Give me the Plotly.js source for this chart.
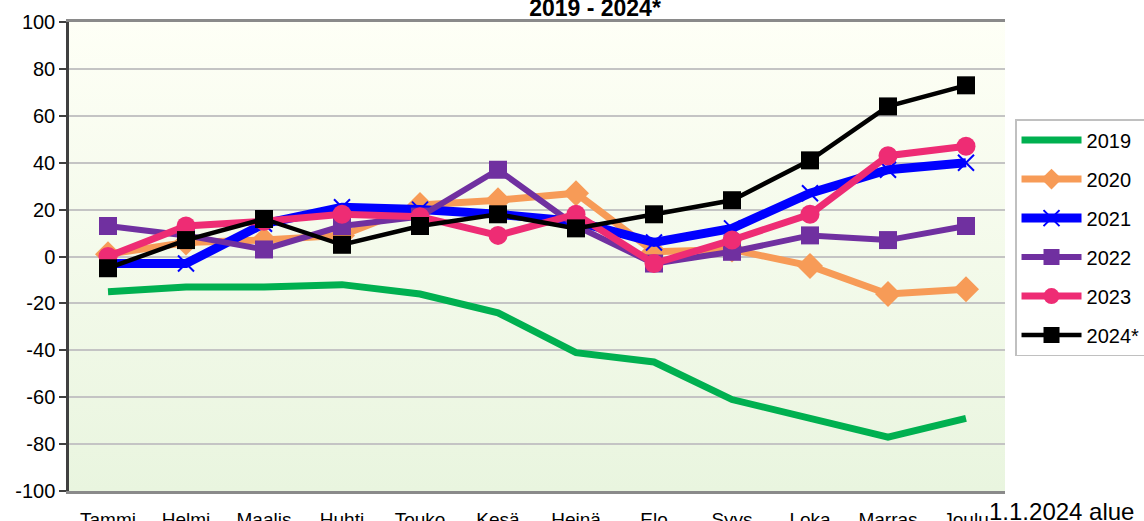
<!DOCTYPE html>
<html>
<head>
<meta charset="utf-8">
<script src="https://cdn.plot.ly/plotly-3.0.1.min.js"></script>
<style>
  html, body { margin: 0; padding: 0; background: #ffffff; }
  #chart { width: 1144px; height: 521px; }
</style>
</head>
<body>
<div id="chart"></div>
<script>
const months = ["Tammi", "Helmi", "Maalis", "Huhti", "Touko", "Kesä", "Heinä", "Elo", "Syys", "Loka", "Marras", "Joulu"];
const seriesNames = ["2019", "2020", "2021", "2022", "2023", "2024*"];
const v2019 = [-15, -13, -13, -12, -16, -24, -41, -45, -61, -69, -77, -69];
const v2020 = [1, 6, 7, 9, 22, 24, 27, 2, 3, -4, -16, -14];
const v2021 = [-3, -3, 14, 21, 20, 18, 15, 6, 12, 27, 37, 40];
const v2022 = [13, 9, 3, 13, 17, 37, 13, -3, 2, 9, 7, 13];
const v2023 = [0, 13, 15, 18, 17, 9, 18, -3, 7, 18, 43, 47];
const v2024 = [-5, 7, 16, 5, 13, 18, 12, 18, 24, 41, 64, 73];
const yTicks = [-100, -80, -60, -40, -20, 0, 20, 40, 60, 80, 100];
const titleText = "2019 - 2024*";
const noteText = "1.1.2024 alue";

const values = [v2019, v2020, v2021, v2022, v2023, v2024];
const styles = [
  {color: "#00b050", width: 7, symbol: "circle", size: 0, mode: "lines"},
  {color: "#f79b57", width: 7, symbol: "diamond", size: 20, mode: "lines+markers"},
  {color: "#0000ff", width: 9, symbol: "x-thin", size: 16, mode: "lines+markers"},
  {color: "#7030a0", width: 6, symbol: "square", size: 18, mode: "lines+markers"},
  {color: "#ee2c74", width: 7, symbol: "circle", size: 19, mode: "lines+markers"},
  {color: "#000000", width: 4.5, symbol: "square", size: 18, mode: "lines+markers"}
];

const traces = values.map((vals, i) => ({
  type: "scatter",
  x: months,
  y: vals,
  name: seriesNames[i],
  legendgroup: "g" + i,
  mode: styles[i].mode,
  line: {color: styles[i].color, width: styles[i].width},
  marker: {
    symbol: styles[i].symbol,
    size: styles[i].size,
    color: styles[i].color,
    line: {color: styles[i].color, width: styles[i].symbol === "x-thin" ? 2 : 0}
  },
  hoverinfo: "x+y+name"
}));

const gradSvg = '<svg xmlns="http://www.w3.org/2000/svg" width="10" height="100" viewBox="0 0 10 100" preserveAspectRatio="none">' +
  '<defs><linearGradient id="g" x1="0" y1="0" x2="0" y2="1">' +
  '<stop offset="0" stop-color="#fefff6"/><stop offset="1" stop-color="#e9f5df"/>' +
  '</linearGradient></defs><rect x="0" y="0" width="10" height="100" fill="url(#g)"/></svg>';
const gradSrc = "data:image/svg+xml;charset=utf-8," + encodeURIComponent(gradSvg);

const fontFam = "Liberation Sans, Arial, sans-serif";

const layout = {
  width: 1144,
  height: 521,
  margin: {l: 69, r: 139, t: 22, b: 30, pad: 0, autoexpand: false},
  paper_bgcolor: "#ffffff",
  plot_bgcolor: "rgba(0,0,0,0)",
  font: {family: fontFam, color: "#000000", size: 18},
  title: {
    text: "<b>" + titleText + "</b>",
    font: {family: fontFam, size: 23, color: "#000000"},
    x: 595 / 1144,
    xref: "container",
    xanchor: "center",
    y: 1 - 8 / 521,
    yref: "container",
    yanchor: "middle"
  },
  images: [{
    source: gradSrc,
    xref: "paper", yref: "paper",
    x: 0, y: 1, sizex: 1, sizey: 1,
    xanchor: "left", yanchor: "top",
    sizing: "stretch",
    layer: "below"
  }],
  xaxis: {
    type: "category",
    range: [-0.5, 11.5],
    showgrid: false,
    zeroline: false,
    showline: true,
    linecolor: "#8a8a8a",
    linewidth: 3,
    mirror: true,
    ticks: "",
    ticklabelstandoff: 9,
    tickfont: {family: fontFam, size: 19, color: "#000000"},
    fixedrange: true
  },
  yaxis: {
    range: [-100, 100],
    tickvals: yTicks,
    ticktext: yTicks.map(String),
    showgrid: true,
    gridcolor: "#c4c4c4",
    gridwidth: 1.5,
    zeroline: false,
    showline: true,
    linecolor: "#404040",
    linewidth: 2.5,
    ticks: "outside",
    ticklen: 7,
    tickwidth: 2,
    tickcolor: "#404040",
    tickfont: {family: fontFam, size: 20, color: "#000000"},
    fixedrange: true
  },
  showlegend: true,
  legend: {
    x: 1.0107,
    xanchor: "left",
    y: 0.793,
    yanchor: "top",
    bgcolor: "#ffffff",
    bordercolor: "#c0c0c0",
    borderwidth: 1.5,
    font: {family: fontFam, size: 20, color: "#000000"},
    traceorder: "grouped",
    tracegroupgap: 10,
    itemwidth: 60,
    itemclick: false,
    itemdoubleclick: false
  },
  annotations: [{
    text: noteText,
    xref: "paper", yref: "paper",
    x: (987 - 69) / 936,
    y: -21 / 469,
    xanchor: "left",
    yanchor: "middle",
    showarrow: false,
    font: {family: fontFam, size: 24, color: "#000000"}
  }]
};

Plotly.newPlot("chart", traces, layout, {displayModeBar: false, staticPlot: false});
</script>
</body>
</html>
